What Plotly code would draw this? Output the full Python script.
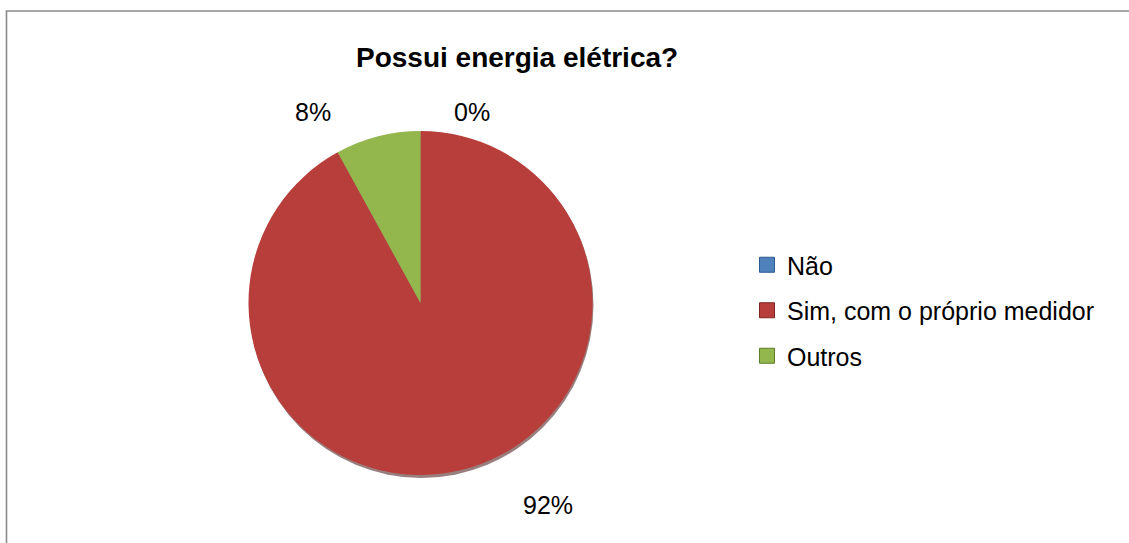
import plotly.graph_objects as go

# Survey answers: "Possui energia elétrica?"
categories = ["Não", "Sim, com o próprio medidor", "Outros"]
shares = [0, 92, 8]
slice_colors = ["#4F81BD", "#B83E3B", "#93B74C"]
legend_edge = ["#2C5A8E", "#7E2421", "#5E7E2A"]

W, H = 1129, 543
FONT = "Arial, Liberation Sans, sans-serif"

# pie geometry in pixels
cx, cy, r = 420.5, 303, 172

fig = go.Figure()

fig.add_trace(go.Pie(
    labels=categories,
    values=shares,
    sort=False,
    direction="clockwise",
    rotation=0,
    marker=dict(colors=slice_colors, line=dict(width=0)),
    textinfo="none",
    hoverinfo="label+percent",
    showlegend=False,
    domain=dict(x=[(cx - r) / W, (cx + r) / W],
                y=[1 - (cy + r) / H, 1 - (cy - r) / H]),
))

# legend entries, one group each so the row spacing can be opened up
for i, (name, col, edge) in enumerate(zip(categories, slice_colors, legend_edge)):
    fig.add_trace(go.Scatter(
        x=[None], y=[None], mode="markers", name=name,
        legendgroup=f"g{i}",
        marker=dict(symbol="square", size=15, color=col,
                    line=dict(color=edge, width=1)),
        hoverinfo="skip",
    ))

# percentage labels around the pie
label_pos = [(472, 112), (548, 505), (313, 112)]
for v, (lx, ly) in zip(shares, label_pos):
    fig.add_annotation(
        x=lx / W, y=1 - ly / H, xref="paper", yref="paper",
        text=f"{v}%", showarrow=False,
        font=dict(family=FONT, size=25, color="#000000"),
        xanchor="center", yanchor="middle",
    )

# soft rim under the pie
shadow = dict(type="circle", xref="paper", yref="paper",
              x0=(cx - r + 1) / W, x1=(cx + r + 1) / W,
              y0=1 - (cy + r + 3) / H, y1=1 - (cy - r + 1) / H,
              line=dict(width=0), fillcolor="rgba(70,20,20,0.55)",
              layer="below")

frame = dict(type="rect", xref="paper", yref="paper",
             x0=6.5 / W, x1=1.05, y0=-0.05, y1=1 - 11 / H,
             line=dict(color="#8A8A8A", width=1.6),
             fillcolor="rgba(0,0,0,0)", layer="below")

fig.update_layout(
    width=W, height=H,
    margin=dict(l=0, r=0, t=0, b=0),
    paper_bgcolor="white", plot_bgcolor="white",
    title=dict(text="<b>Possui energia elétrica?</b>",
               x=356 / W, xanchor="left",
               y=1 - 57 / H, yanchor="middle",
               font=dict(family=FONT, size=28, color="#000000")),
    xaxis=dict(visible=False),
    yaxis=dict(visible=False),
    legend=dict(
        x=747 / W, y=1 - 242 / H, xanchor="left", yanchor="top",
        font=dict(family=FONT, size=25, color="#000000"),
        tracegroupgap=10,
        bgcolor="rgba(0,0,0,0)",
    ),
    shapes=[frame, shadow],
)

fig.write_html("out.html")
